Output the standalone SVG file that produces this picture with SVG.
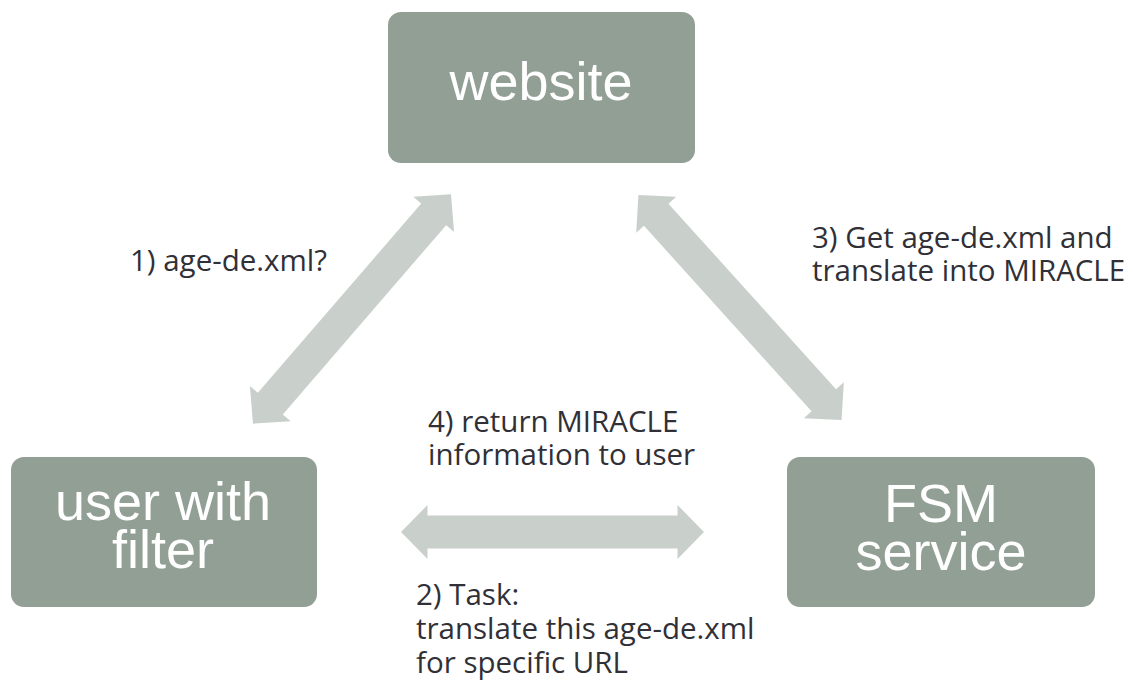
<svg xmlns="http://www.w3.org/2000/svg" width="1133" height="697" viewBox="0 0 1133 697">
  <style>
    .box { fill: #929F95; }
    .nodeText { font-family: "Liberation Sans", Arial, sans-serif; font-size: 54px; fill: #ffffff; text-anchor: middle; }
    .label { font-family: "Open Sans", "DejaVu Sans", sans-serif; font-size: 29.5px; fill: #303036; }
    .arrow { fill: #C9D0CC; }
  </style>
  <defs>
    <polygon id="dblArrow" points="-151.5,0 -125,-27 -125,-16.5 125,-16.5 125,-27 151.5,0 125,27 125,16.5 -125,16.5 -125,27"/>
  </defs>
  <rect width="1133" height="697" fill="#ffffff"/>
  <g id="connectors">
    <use href="#dblArrow" class="arrow" transform="translate(352,309) rotate(-49.2)"/>
    <use href="#dblArrow" class="arrow" transform="translate(740,307.5) rotate(47.9)"/>
    <use href="#dblArrow" class="arrow" transform="translate(552.5,532)"/>
  </g>
  <g id="node-website">
    <rect class="box" x="388" y="12" width="307" height="151" rx="13"/>
    <text class="nodeText" x="541" y="100">website</text>
  </g>
  <g id="node-user">
    <rect class="box" x="11" y="457" width="306" height="150" rx="13"/>
    <text class="nodeText" x="163" y="520">user with</text>
    <text class="nodeText" x="163" y="568">filter</text>
  </g>
  <g id="node-fsm">
    <rect class="box" x="787" y="457" width="308" height="150" rx="13"/>
    <text class="nodeText" x="941" y="522">FSM</text>
    <text class="nodeText" x="941" y="570">service</text>
  </g>
  <g id="labels">
    <text class="label" x="130" y="271">1) age-de.xml?</text>
    <text class="label" x="812" y="248">3) Get age-de.xml and</text>
    <text class="label" x="812" y="281">translate into MIRACLE</text>
    <text class="label" x="428" y="432">4) return MIRACLE</text>
    <text class="label" x="428" y="465">information to user</text>
    <text class="label" x="416" y="605">2) Task:</text>
    <text class="label" x="416" y="639">translate this age-de.xml</text>
    <text class="label" x="416" y="673">for specific URL</text>
  </g>
</svg>
